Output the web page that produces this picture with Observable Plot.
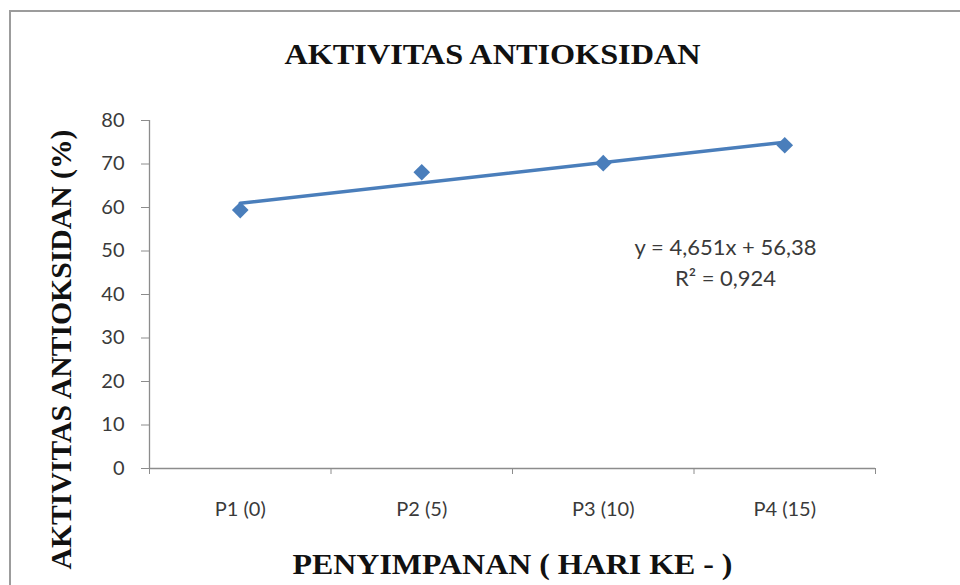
<!DOCTYPE html>
<html>
<head>
<meta charset="utf-8">
<script src="https://cdn.jsdelivr.net/npm/d3@7"></script>
<script src="https://cdn.jsdelivr.net/npm/@observablehq/plot@0.6"></script>
<style>
  html, body { margin: 0; padding: 0; background: #fff; width: 960px; height: 585px; overflow: hidden; }
  #wrap { position: relative; width: 960px; height: 585px; }
  #border { position: absolute; left: 9px; top: 10px; width: 1200px; height: 1200px;
            border-left: 2px solid #9c9c9c; border-top: 2px solid #9c9c9c; box-sizing: border-box; }
  #chart { position: absolute; left: 0; top: 0; }
</style>
</head>
<body>
<div id="wrap"><div id="border"></div><div id="chart"></div></div>
<script>
const categories = ["P1 (0)", "P2 (5)", "P3 (10)", "P4 (15)"];
const values = [59.4, 68.1, 70.2, 74.3];
const yTicks = [0, 10, 20, 30, 40, 50, 60, 70, 80];
const equationLines = ["y = 4,651x + 56,38", "R² = 0,924"];
const chartTitle = "AKTIVITAS ANTIOKSIDAN";
const xTitle = "PENYIMPANAN ( HARI KE - )";
const yTitle = "AKTIVITAS ANTIOKSIDAN (%)";

const data = categories.map((c, i) => ({pos: i + 1, cat: c, value: values[i]}));
const positions = data.map(d => d.pos);
const boundaries = categories.map((_, i) => i + 0.5).concat([categories.length + 0.5]);

const blue = "#4a7ebb";
const axisGray = "#8c8c8c";
const labelGray = "#3a3a3a";
const serif = "'Liberation Serif', 'DejaVu Serif', serif";

const chart = Plot.plot({
  width: 960,
  height: 585,
  marginTop: 120,
  marginBottom: 117,
  marginLeft: 149,
  marginRight: 85,
  x: {domain: [0.5, categories.length + 0.5], axis: null},
  y: {domain: [0, 80], axis: null},
  style: {fontFamily: "Lato, 'Open Sans', sans-serif", fontSize: "20px", background: "transparent", overflow: "visible"},
  marks: [
    Plot.ruleY([0], {stroke: axisGray, strokeWidth: 1.3}),
    Plot.ruleX([0.5], {stroke: axisGray, strokeWidth: 1.3}),
    Plot.axisY({ticks: yTicks, tickSize: 8, tickFormat: () => "", color: axisGray, label: null}),
    Plot.axisY({ticks: yTicks, tickSize: 0, tickPadding: 25, color: labelGray, label: null, fontSize: 20}),
    Plot.axisX({ticks: boundaries, tickSize: 6, tickFormat: () => "", color: axisGray, label: null}),
    Plot.axisX({ticks: positions, tickSize: 0, tickPadding: 33, tickFormat: d => categories[d - 1], color: labelGray, label: null, fontSize: 20}),
    Plot.linearRegressionY(data, {x: "pos", y: "value", stroke: blue, strokeWidth: 3.5, ci: 0}),
    Plot.dot(data, {x: "pos", y: "value", symbol: "diamond2", r: 7.5, fill: blue, stroke: "none"}),
    Plot.text([equationLines.join("\n")], {frameAnchor: "top-right", dx: -150, dy: 140, textAnchor: "middle", lineAnchor: "middle", lineHeight: 1.4, fontSize: 22, fill: labelGray}),
    Plot.text([chartTitle], {frameAnchor: "top", dx: -20, dy: -66, textAnchor: "middle", lineAnchor: "middle", fontFamily: serif, fontWeight: "bold", fontSize: 29, fill: "#111"}),
    Plot.text([xTitle], {frameAnchor: "bottom", dx: 0, dy: 96, textAnchor: "middle", lineAnchor: "middle", fontFamily: serif, fontWeight: "bold", fontSize: 29, fill: "#111"}),
    Plot.text([yTitle], {frameAnchor: "left", dx: -88, dy: 55, rotate: -90, textAnchor: "middle", lineAnchor: "middle", fontFamily: serif, fontWeight: "bold", fontSize: 29, fill: "#111"})
  ]
});
document.getElementById("chart").appendChild(chart);

// stretch titles to the widths seen in the reference
const widths = new Map([[chartTitle, 416], [xTitle, 440], [yTitle, 440]]);
d3.select(chart).selectAll("text").each(function() {
  const t = this.textContent;
  if (widths.has(t)) {
    this.setAttribute("textLength", widths.get(t));
    this.setAttribute("lengthAdjust", "spacingAndGlyphs");
  }
});
</script>
</body>
</html>
